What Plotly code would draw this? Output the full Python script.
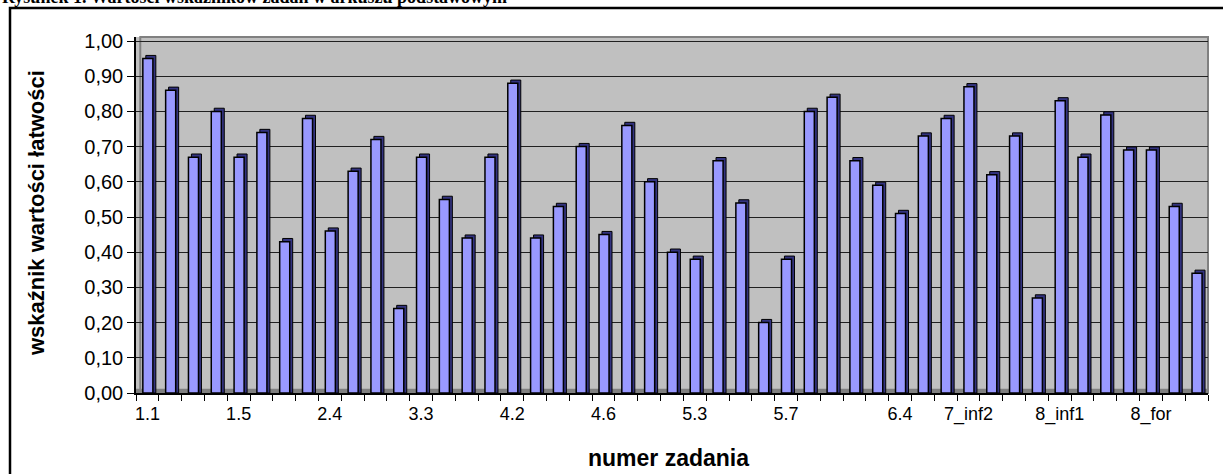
import plotly.graph_objects as go

categories = ["1.1", "1.2", "1.3", "1.4", "1.5", "2.1", "2.2", "2.3", "2.4", "2.5",
              "3.1", "3.2", "3.3", "3.4", "3.5", "4.1", "4.2", "4.3", "4.4", "4.5",
              "4.6", "4.7", "5.1", "5.2", "5.3", "5.4", "5.5", "5.6", "5.7", "5.8",
              "6.1", "6.2", "6.3", "6.4", "6.5", "7_inf1", "7_inf2", "7_inf3", "7_for1",
              "7_for2", "8_inf1", "8_inf2", "8_inf3", "8_inf4", "8_for", "8_for2", "8_for3"]
values = [0.95, 0.86, 0.67, 0.80, 0.67, 0.74, 0.43, 0.78, 0.46, 0.63,
          0.72, 0.24, 0.67, 0.55, 0.44, 0.67, 0.88, 0.44, 0.53, 0.70,
          0.45, 0.76, 0.60, 0.40, 0.38, 0.66, 0.54, 0.20, 0.38, 0.80,
          0.84, 0.66, 0.59, 0.51, 0.73, 0.78, 0.87, 0.62, 0.73, 0.27,
          0.83, 0.67, 0.79, 0.69, 0.69, 0.53, 0.34]
shown_labels = ["1.1", "1.5", "2.4", "3.3", "4.2", "4.6", "5.3", "5.7", "6.4", "7_inf2", "8_inf1", "8_for"]
y_ticks = [0, 0.1, 0.2, 0.3, 0.4, 0.5, 0.6, 0.7, 0.8, 0.9, 1.0]

W, H = 1223, 474
L, R, T, B = 136, 15, 37, 81
PW, PH = W - L - R, H - T - B
YMAX = PH / 352.0


def px_x(p):
    return (p - L) / PW


def px_y(p):
    return (H - B - p) / PH


ticktext = [c if c in shown_labels else "" for c in categories]
depth = 0.009

fig = go.Figure()
# depth (side / top) face of the 3D columns
fig.add_trace(go.Bar(
    x=categories, y=[v + depth for v in values], base=0,
    width=0.44, offset=-0.07,
    marker=dict(color="#333380", line=dict(color="black", width=1)),
    hoverinfo="skip", showlegend=False))
# front face
fig.add_trace(go.Bar(
    x=categories, y=values,
    width=0.44, offset=-0.20,
    marker=dict(color="#9999FF", line=dict(color="black", width=1.5)),
    showlegend=False))

font = "Liberation Sans, Arial, sans-serif"

fig.update_layout(
    width=W, height=H,
    margin=dict(l=L, r=R, t=T, b=B),
    paper_bgcolor="white",
    plot_bgcolor="#C0C0C0",
    barmode="overlay",
    separators=", ",
    font=dict(family=font, color="black", size=16),
    xaxis=dict(
        type="category",
        tickmode="array", tickvals=categories, ticktext=ticktext,
        tickson="boundaries", ticks="outside", ticklen=6, tickcolor="black",
        ticklabelstandoff=4,
        showgrid=False, showline=True, linecolor="black", linewidth=1.5,
        tickfont=dict(size=18, family=font), tickangle=0,
        range=[-0.5, len(categories) - 0.5], zeroline=False,
    ),
    yaxis=dict(
        range=[0, YMAX], tickmode="array", tickvals=y_ticks, tickformat=".2f",
        ticks="outside", ticklen=7, tickcolor="black",
        showline=True, linecolor="black", linewidth=1.5,
        showgrid=True, gridcolor="#202020", gridwidth=1,
        zeroline=False, tickfont=dict(size=20, family=font),
    ),
    shapes=[
        # floor strip
        dict(type="rect", xref="paper", yref="y", x0=0, x1=1, y0=0, y1=0.012,
             fillcolor="#808080", line=dict(width=0), layer="below"),
        # plot area border
        dict(type="rect", xref="paper", yref="paper", x0=0.004, x1=1, y0=0, y1=1,
             line=dict(color="#808080", width=2), layer="below"),
        # outer chart frame
        dict(type="rect", xref="paper", yref="paper",
             x0=px_x(10), x1=px_x(1235), y0=px_y(490), y1=px_y(8),
             line=dict(color="black", width=2.5)),
    ],
    annotations=[
        dict(text="<b>wskaźnik wartości łatwości</b>", xref="paper", yref="paper",
             x=px_x(36), y=px_y(213), textangle=-90, showarrow=False,
             font=dict(size=22, family=font), xanchor="center", yanchor="middle"),
        dict(text="<b>numer zadania</b>", xref="paper", yref="paper",
             x=px_x(668), y=px_y(458), showarrow=False,
             font=dict(size=23, family=font), xanchor="center", yanchor="middle"),
        dict(text="<b>Rysunek 1. Wartości wskaźników zadań w arkuszu podstawowym</b>",
             xref="paper", yref="paper", x=px_x(0), y=px_y(9),
             xanchor="left", yanchor="bottom", showarrow=False,
             font=dict(size=18, family="Liberation Serif, Times New Roman, serif")),
    ],
)

fig.write_html("out.html",
               config={"displayModeBar": False},
               post_script="document.body.style.margin='0';document.body.style.overflow='hidden';")
